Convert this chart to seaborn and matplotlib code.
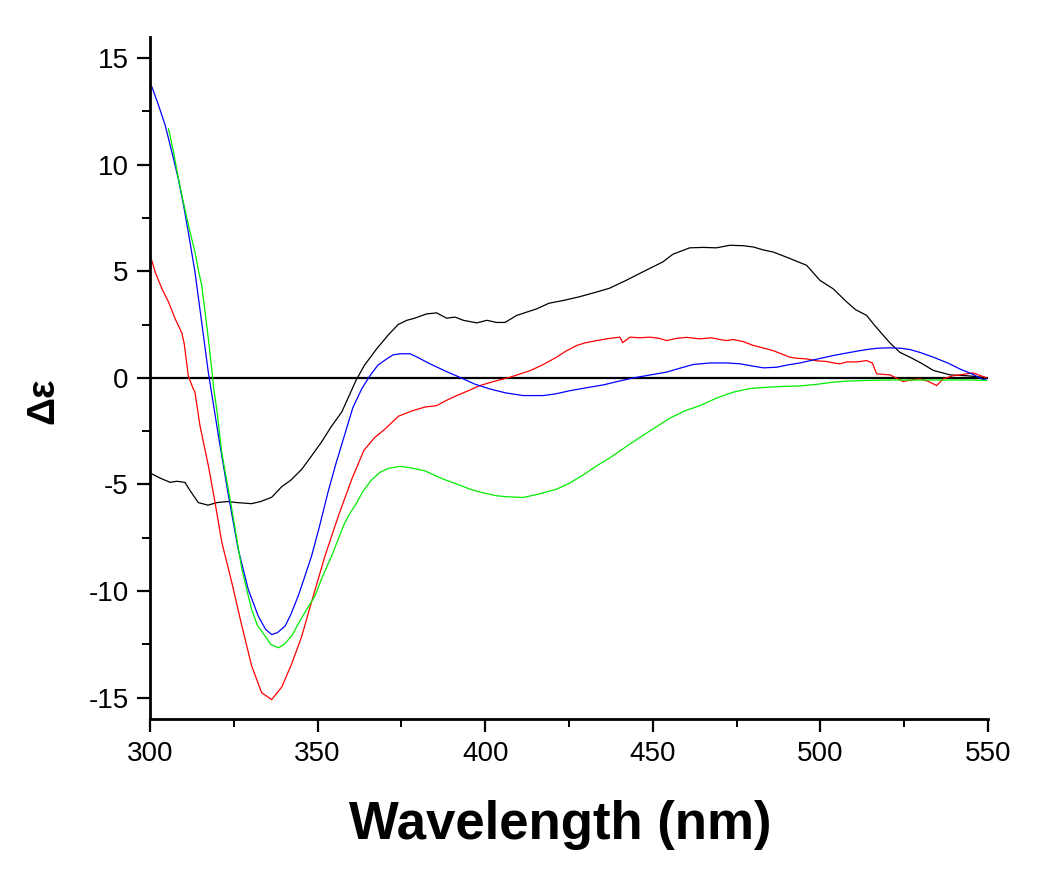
import matplotlib
matplotlib.use("Agg")
import matplotlib.pyplot as plt
from matplotlib.ticker import AutoMinorLocator
import seaborn as sns
import pandas as pd

# ---- data ----
black_wl = [300.5, 303, 306, 308, 310.4, 312, 314.4, 317.3, 320, 323, 326, 330.3, 333, 336.3,
            339.3, 342, 345.3, 348, 351.2, 354, 357.2, 359.5, 361.5, 364, 367.6, 371, 374, 376.6,
            379, 382.5, 385.5, 388.5, 391, 393.5, 397.5, 400.5, 403.4, 405.9, 409.4, 415.4, 419,
            423.3, 428, 433.3, 437, 442, 447, 453, 456, 461, 465, 469, 473, 477, 480, 483, 486,
            490.9, 495.9, 499.9, 503.8, 507.8, 510.5, 513.8, 516, 518.8, 521, 523.7, 527, 530,
            533.7, 538.7, 543.7, 548.6, 550]
black_de = [-4.5, -4.7, -4.9, -4.85, -4.9, -5.3, -5.85, -5.97, -5.85, -5.8, -5.85, -5.9, -5.8, -5.6,
            -5.1, -4.8, -4.28, -3.7, -3.0, -2.3, -1.6, -0.8, -0.1, 0.6, 1.36, 2.0, 2.5, 2.7,
            2.8, 3.0, 3.05, 2.8, 2.85, 2.7, 2.58, 2.7, 2.6, 2.6, 2.93, 3.24, 3.5,
            3.63, 3.8, 4.03, 4.2, 4.57, 4.97, 5.44, 5.8, 6.1, 6.12, 6.1, 6.22, 6.2, 6.14, 6.0, 5.9,
            5.6, 5.28, 4.57, 4.18, 3.57, 3.2, 2.93, 2.5, 1.99, 1.6, 1.2, 0.95, 0.7,
            0.35, 0.14, 0.1, 0.03, 0.0]

red_wl = [300.5, 301.5, 303.5, 305.5, 307.5, 309.5, 310.2, 311.4, 312.9, 313.4, 314.9, 317.4, 319.4,
          321.4, 324.4, 327.4, 330.3, 333.3, 336.3, 339.3, 342.3, 345.3, 348.2, 352.2, 356.2, 360.2,
          363.8, 367, 370.1, 374.1, 378.3, 382, 385.5, 388.5, 391.5, 395, 398.4, 403, 407.4, 413.4,
          417, 421.3, 424, 427.3, 430, 433.3, 437, 440.2, 441, 443.2, 446, 449.2, 452, 454.1, 457,
          460.1, 464.1, 467.5, 470, 472, 474, 477, 480, 483, 485.9, 488, 490.9, 493, 495.9, 499,
          501.8, 504, 505.8, 508, 511, 513.8, 515.5, 516.8, 520.8, 524.7, 527, 529.7, 532, 534.7,
          536.6, 539.6, 542, 545.5, 547, 549.6]
red_de = [5.52, 4.97, 4.2, 3.56, 2.77, 2.1, 1.6, 0.1, -0.52, -0.67, -2.24, -4.12, -5.85,
          -7.7, -9.6, -11.64, -13.5, -14.77, -15.09, -14.5, -13.4, -12.1, -10.5, -8.35, -6.47, -4.75,
          -3.4, -2.8, -2.4, -1.8, -1.54, -1.37, -1.3, -1.05, -0.83, -0.6, -0.36, -0.15, 0.03, 0.34,
          0.6, 0.97, 1.25, 1.52, 1.65, 1.75, 1.85, 1.91, 1.65, 1.91, 1.88, 1.91, 1.85, 1.75, 1.85,
          1.9, 1.83, 1.88, 1.8, 1.75, 1.8, 1.7, 1.52, 1.4, 1.28, 1.15, 0.97, 0.92, 0.89, 0.8,
          0.77, 0.7, 0.66, 0.75, 0.75, 0.81, 0.7, 0.19, 0.14, -0.17, -0.1, -0.05, -0.15, -0.36,
          -0.05, 0.1, 0.15, 0.23, 0.15, 0.0]

blue_wl = [300.5, 302.5, 304.5, 306.5, 308.4, 310, 311.4, 313.4, 315.4, 317.4, 320.4, 323.4, 326.3,
           329.3, 332.3, 334.5, 336.3, 338, 340.3, 342, 344.2, 346, 348.2, 350.5, 353.2, 355.5,
           358.2, 360.5, 363.2, 365.6, 368, 370.6, 372.5, 374.6, 377.6, 380, 383.5, 388, 393.5,
           397, 401.4, 406, 411.3, 417.3, 421, 425.3, 430, 435.2, 440, 444.2, 449, 454.1, 458,
           462.1, 467.1, 472, 476, 480, 483, 487, 490, 493.9, 499, 503.9, 509, 513.8, 517, 520.8,
           524, 526.7, 530, 533.7, 538, 541.6, 545, 548.6, 549.5]
blue_de = [13.67, 12.8, 11.86, 10.6, 9.36, 8.1, 6.85, 4.97, 2.62, 0.25, -2.71, -5.53, -8.04,
           -9.92, -11.18, -11.8, -12.04, -11.95, -11.64, -11.1, -10.23, -9.4, -8.35, -7.0, -5.3, -4.0,
           -2.6, -1.4, -0.5, 0.1, 0.6, 0.89, 1.08, 1.13, 1.13, 0.95, 0.66, 0.33, -0.05,
           -0.3, -0.52, -0.7, -0.83, -0.83, -0.75, -0.6, -0.47, -0.33, -0.15, 0.0, 0.13, 0.27, 0.45,
           0.63, 0.7, 0.7, 0.66, 0.55, 0.47, 0.5, 0.6, 0.7, 0.88, 1.05, 1.2, 1.33, 1.39, 1.41,
           1.39, 1.33, 1.18, 0.97, 0.7, 0.42, 0.2, -0.08, -0.05]

green_wl = [305.5, 307, 308.4, 310.4, 312, 313.4, 314.5, 315.4, 316.5, 317.4, 318.4, 318.9, 320,
            321.4, 324.4, 327.4, 330.3, 332, 334.3, 336, 338.3, 340, 342.3, 344, 346.2, 349.2,
            351.5, 354.2, 357.7, 359.2, 361.5, 363.6, 366, 368.6, 371, 374.6, 377, 379.6, 382,
            387.5, 391, 395.5, 399, 403.4, 407, 411.3, 416, 421.3, 425, 429.3, 433, 437.2, 443.2,
            449, 455, 459.5, 464.1, 469, 474, 479, 484, 489, 493.9, 499, 503.9, 508, 513.8, 520,
            527, 533.7, 540, 545, 549.6]
green_de = [11.7, 10.6, 9.4, 7.9, 6.8, 5.9, 5.0, 4.34, 3.0, 1.83, 0.42, -0.36, -1.6,
            -3.5, -6.16, -8.98, -10.86, -11.6, -12.1, -12.5, -12.66, -12.5, -12.1, -11.6, -11.0, -10.23,
            -9.3, -8.35, -6.94, -6.47, -5.9, -5.3, -4.8, -4.43, -4.25, -4.15, -4.2, -4.28, -4.36,
            -4.75, -4.95, -5.22, -5.38, -5.53, -5.58, -5.61, -5.45, -5.22, -4.95, -4.55, -4.15, -3.75, -3.1,
            -2.5, -1.9, -1.55, -1.3, -0.95, -0.67, -0.5, -0.44, -0.4, -0.38, -0.3, -0.2, -0.15, -0.12, -0.1,
            -0.1, -0.1, -0.1, -0.1, -0.12]

series_names = ["black", "red", "blue", "green"]
series_colors = {"black": "#000000", "red": "#ff0000", "blue": "#0000ff", "green": "#00ee00"}
x_ticks = [300, 350, 400, 450, 500, 550]
y_ticks = [-15, -10, -5, 0, 5, 10, 15]
x_label = "Wavelength (nm)"
y_label = "Δε"

frames = []
for name, wl, de in [("black", black_wl, black_de), ("red", red_wl, red_de),
                     ("blue", blue_wl, blue_de), ("green", green_wl, green_de)]:
    frames.append(pd.DataFrame({"wl": wl, "de": de, "series": name}))
df = pd.concat(frames, ignore_index=True)

# ---- style ----
sns.set_style("ticks")
plt.rcParams["font.family"] = ["Liberation Sans", "DejaVu Sans"]
plt.rcParams["axes.unicode_minus"] = False
plt.rcParams["text.color"] = "black"

fig = plt.figure(figsize=(10.5, 8.86), dpi=100)
ax = fig.add_axes([0.1429, 0.1885, 0.798, 0.770])

ax.axhline(0, color="black", lw=1.6, zorder=1)
sns.lineplot(data=df, x="wl", y="de", hue="series", hue_order=series_names,
             palette=series_colors, estimator=None, sort=False, legend=False,
             linewidth=0.9, ax=ax, zorder=2)

ax.set_xlim(300, 550)
ax.set_ylim(-16, 16)
ax.set_xticks(x_ticks)
ax.set_yticks(y_ticks)
ax.xaxis.set_minor_locator(AutoMinorLocator(2))
ax.yaxis.set_minor_locator(AutoMinorLocator(2))
ax.set_xlabel("")
ax.set_ylabel("")

for side in ["top", "right"]:
    ax.spines[side].set_visible(False)
for side in ["left", "bottom"]:
    ax.spines[side].set_linewidth(2.0)
    ax.spines[side].set_color("black")

ax.tick_params(axis="both", which="major", direction="out", length=9.5, width=1.6,
               labelsize=20, pad=6, colors="black", labelcolor="black")
ax.tick_params(axis="both", which="minor", direction="out", length=5.5, width=1.4, colors="black")

fig.text(0.534, 0.069, x_label, ha="center", va="center", fontsize=38, fontweight="bold",
         color="black")
fig.text(0.041, 0.548, y_label, ha="center", va="center", rotation=90, fontsize=28,
         fontweight="bold", color="black")

fig.savefig("out.png", dpi=100)
